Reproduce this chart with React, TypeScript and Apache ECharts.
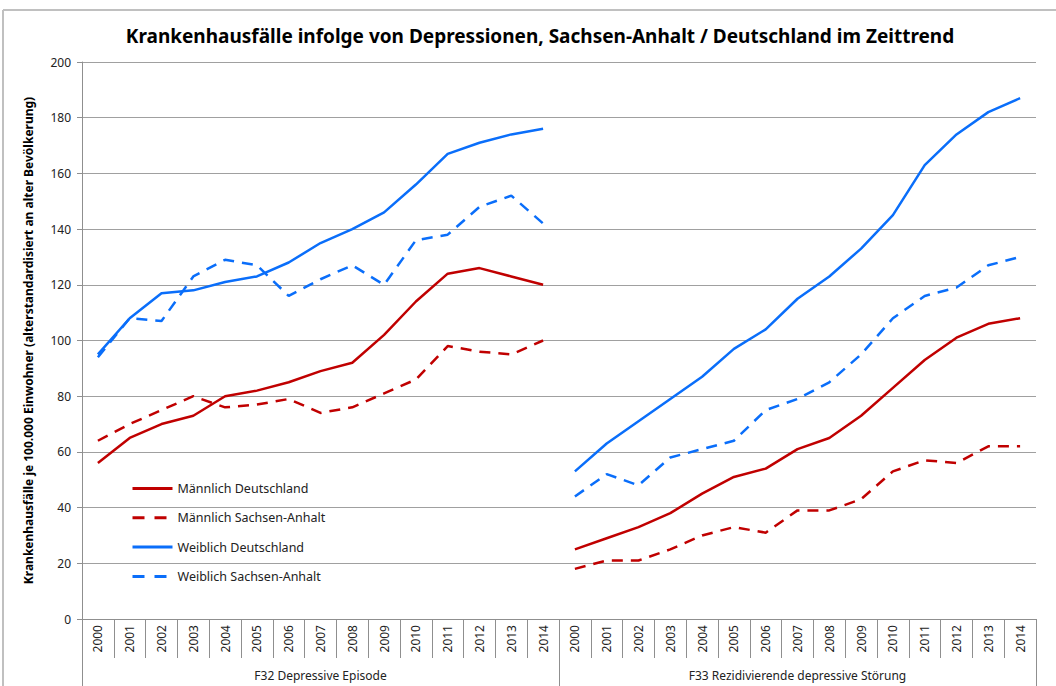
import React, { useEffect, useRef } from "react";
import * as echarts from "echarts";

const years = ["2000", "2001", "2002", "2003", "2004", "2005", "2006", "2007", "2008", "2009", "2010", "2011", "2012", "2013", "2014"];
const groups = ["F32 Depressive Episode", "F33 Rezidivierende depressive Störung"];
const yTicks = { min: 0, max: 200, interval: 20 };

const seriesNames = ["Männlich Deutschland", "Männlich Sachsen-Anhalt", "Weiblich Deutschland", "Weiblich Sachsen-Anhalt"];

const f32MaennlichDE = [56, 65, 70, 73, 80, 82, 85, 89, 92, 102, 114, 124, 126, 123, 120];
const f32MaennlichST = [64, 70, 75, 80, 76, 77, 79, 74, 76, 81, 86, 98, 96, 95, 100];
const f32WeiblichDE = [95, 108, 117, 118, 121, 123, 128, 135, 140, 146, 156, 167, 171, 174, 176];
const f32WeiblichST = [94, 108, 107, 123, 129, 127, 116, 122, 127, 120, 136, 138, 148, 152, 142];

const f33MaennlichDE = [25, 29, 33, 38, 45, 51, 54, 61, 65, 73, 83, 93, 101, 106, 108];
const f33MaennlichST = [18, 21, 21, 25, 30, 33, 31, 39, 39, 43, 53, 57, 56, 62, 62];
const f33WeiblichDE = [53, 63, 71, 79, 87, 97, 104, 115, 123, 133, 145, 163, 174, 182, 187];
const f33WeiblichST = [44, 52, 48, 58, 61, 64, 75, 79, 85, 95, 108, 116, 119, 127, 130];

const RED = "#C00000";
const BLUE = "#0A6EFA";
const FONT = "Noto Sans";

export default function App() {
  const ref = useRef<HTMLDivElement>(null);

  useEffect(() => {
    if (!ref.current) return;
    const chart = echarts.init(ref.current, undefined, { renderer: "svg" });
    const categories = [...years, ...years];
    const pad = years.map(() => null);

    const defs = [
      { name: seriesNames[0], left: f32MaennlichDE, right: f33MaennlichDE, color: RED, dashed: false },
      { name: seriesNames[1], left: f32MaennlichST, right: f33MaennlichST, color: RED, dashed: true },
      { name: seriesNames[2], left: f32WeiblichDE, right: f33WeiblichDE, color: BLUE, dashed: false },
      { name: seriesNames[3], left: f32WeiblichST, right: f33WeiblichST, color: BLUE, dashed: true },
    ];

    const series: any[] = [];
    defs.forEach((d) => {
      const style = {
        color: d.color,
        width: 2.5,
        type: d.dashed ? [11, 8] : "solid",
      };
      series.push({
        type: "line",
        name: d.name,
        data: [...d.left, ...pad],
        symbol: "none",
        lineStyle: style,
        itemStyle: { color: d.color },
        connectNulls: false,
        xAxisIndex: 0,
      });
      series.push({
        type: "line",
        name: d.name,
        data: [...pad, ...d.right],
        symbol: "none",
        lineStyle: style,
        itemStyle: { color: d.color },
        connectNulls: false,
        xAxisIndex: 0,
      });
    });

    const legendData = defs.map((d) =>
      d.dashed ? { name: d.name, lineStyle: { type: [12, 10], width: 3 } } : { name: d.name }
    );

    chart.setOption({
      animation: false,
      backgroundColor: "#ffffff",
      textStyle: { fontFamily: FONT },
      title: {
        text: "Krankenhausfälle infolge von Depressionen, Sachsen-Anhalt / Deutschland im Zeittrend",
        left: 535,
        textAlign: "center",
        top: 21,
        textStyle: { fontFamily: FONT, fontSize: 19, fontWeight: "bold", color: "#000" },
      },
      legend: {
        orient: "vertical",
        left: 126,
        top: 477,
        data: legendData,
        itemWidth: 40,
        itemHeight: 14,
        itemGap: 16.3,
        itemStyle: { opacity: 0 },
        lineStyle: { width: 3 },
        textStyle: { fontFamily: FONT, fontSize: 12.5, color: "#222" },
      },
      grid: { left: 82, right: 20, top: 62, bottom: 67 },
      xAxis: [
        {
          type: "category",
          data: categories,
          boundaryGap: true,
          position: "bottom",
          axisLine: { show: true, lineStyle: { color: "#8f8f8f", width: 1 } },
          axisTick: { show: true, interval: 0, length: 39, lineStyle: { color: "#8f8f8f" } },
          axisLabel: { interval: 0, rotate: 90, margin: 6, fontSize: 12, color: "#222", fontFamily: FONT },
        },
        {
          type: "category",
          data: groups,
          boundaryGap: true,
          position: "bottom",
          axisLine: { show: false },
          axisTick: { show: true, interval: 0, length: 67, lineStyle: { color: "#8f8f8f" } },
          axisLabel: { interval: 0, margin: 50, fontSize: 12, color: "#222", fontFamily: FONT },
        },
      ],
      yAxis: {
        type: "value",
        min: yTicks.min,
        max: yTicks.max,
        interval: yTicks.interval,
        name: "Krankenhausfälle je 100.000 Einwohner (alterstandardisiert an alter Bevölkerung)",
        nameLocation: "middle",
        nameGap: 48,
        nameTextStyle: { fontFamily: FONT, fontSize: 12, fontWeight: "bold", color: "#000" },
        axisLine: { show: true, lineStyle: { color: "#8f8f8f", width: 1 } },
        axisTick: { show: true, length: 5, lineStyle: { color: "#8f8f8f" } },
        axisLabel: { fontSize: 12, color: "#222", margin: 11, fontFamily: FONT },
        splitLine: { show: true, lineStyle: { color: "#a0a0a0", width: 1 } },
      },
      graphic: [
        { type: "line", shape: { x1: 3, y1: 10, x2: 1056, y2: 10 }, style: { stroke: "#c0c0c0", lineWidth: 2 } },
        { type: "line", shape: { x1: 3, y1: 10, x2: 3, y2: 686 }, style: { stroke: "#c0c0c0", lineWidth: 2 } },
      ],
      series,
    });

    return () => chart.dispose();
  }, []);

  return (
    <div
      ref={ref}
      style={{ position: "fixed", left: 0, top: 0, width: 1056, height: 686, background: "#fff" }}
    />
  );
}
